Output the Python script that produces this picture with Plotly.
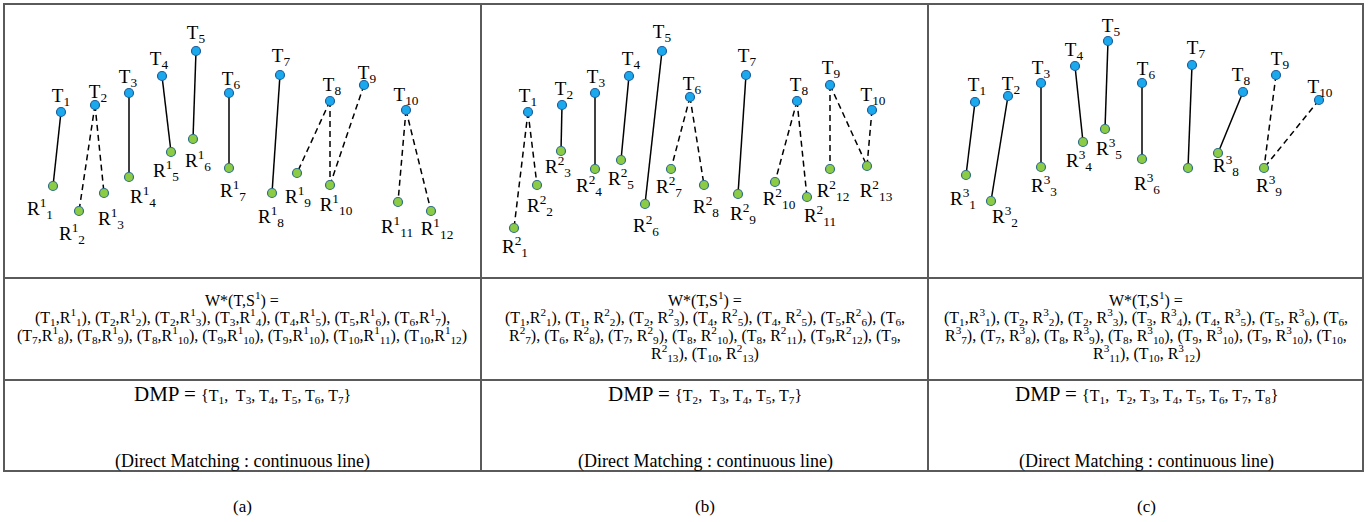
import plotly.graph_objects as go

# ---------------- Data (pixel-space layout of the diagram) ----------------
# Panel (a): S^1
a_t_x = [61, 95, 129, 162, 196, 229, 280, 330, 364, 406]
a_t_y = [112, 105, 93, 76, 51, 93, 75, 101, 85, 110]
a_r_x = [53, 79, 104, 129, 171, 193, 229, 272, 297, 330, 398, 431]
a_r_y = [186, 211, 193, 177, 152, 139, 168, 193, 173, 185, 202, 211]
a_link_t = [1, 2, 2, 3, 4, 5, 6, 7, 8, 8, 9, 10, 10]
a_link_r = [1, 2, 3, 4, 5, 6, 7, 8, 9, 10, 10, 11, 12]
a_link_direct = [1, 0, 0, 1, 1, 1, 1, 1, 0, 0, 0, 0, 0]
a_tlab_x = [61, 98, 128, 159, 196, 231, 281, 332, 367, 406]
a_tlab_y = [97, 93, 78, 60, 34, 80, 57, 86, 74, 96]
a_rlab_x = [40, 72, 111, 143, 166, 198, 233, 271, 298, 336, 397, 437]
a_rlab_y = [210, 235, 220, 198, 172, 162, 192, 218, 198, 206, 228, 230]

# Panel (b): S^2
b_t_x = [528, 562, 595, 629, 662, 690, 746, 797, 830, 872]
b_t_y = [112, 105, 93, 76, 51, 97, 75, 101, 85, 110]
b_r_x = [514, 537, 561, 595, 621, 645, 671, 704, 738, 775, 807, 830, 867]
b_r_y = [228, 185, 151, 169, 160, 204, 169, 185, 194, 182, 197, 169, 166]
b_link_t = [1, 1, 2, 3, 4, 5, 6, 6, 7, 8, 8, 9, 9, 10]
b_link_r = [1, 2, 3, 4, 5, 6, 7, 8, 9, 10, 11, 12, 13, 13]
b_link_direct = [0, 0, 1, 1, 1, 1, 0, 0, 1, 0, 0, 0, 0, 0]
b_tlab_x = [528, 564, 596, 631, 662, 692, 747, 799, 831, 873]
b_tlab_y = [97, 90, 78, 60, 33, 85, 57, 86, 69, 96]
b_rlab_x = [515, 540, 558, 589, 621, 646, 669, 706, 743, 779, 820, 833, 876]
b_rlab_y = [248, 207, 168, 187, 180, 227, 188, 208, 215, 200, 217, 192, 192]

# Panel (c): S^3
c_t_x = [975, 1008, 1041, 1075, 1108, 1142, 1192, 1243, 1276, 1319]
c_t_y = [102, 96, 83, 66, 41, 83, 65, 92, 75, 100]
c_r_x = [966, 991, 1041, 1083, 1105, 1142, 1188, 1218, 1264]
c_r_y = [175, 201, 167, 142, 129, 159, 168, 153, 168]
c_link_t = [1, 2, 3, 4, 5, 6, 7, 8, 9, 10]
c_link_r = [1, 2, 3, 4, 5, 6, 7, 8, 9, 9]
c_link_direct = [1, 1, 1, 1, 1, 1, 1, 1, 0, 0]
c_tlab_x = [977, 1011, 1041, 1074, 1111, 1146, 1196, 1241, 1280, 1320]
c_tlab_y = [86, 85, 69, 51, 27, 70, 49, 76, 60, 88]
c_rlab_x = [963, 1005, 1044, 1079, 1109, 1147, None, 1226, 1269]
c_rlab_y = [200, 218, 187, 162, 150, 185, None, 167, 187]

panel_sup = ["1", "2", "3"]
panel_centers = [242, 705, 1146]
panel_letters = ["(a)", "(b)", "(c)"]

w_lines_a = [
    "W*(T,S<sup>1</sup>) =",
    "(T<sub>1</sub>,R<sup>1</sup><sub>1</sub>), (T<sub>2</sub>,R<sup>1</sup><sub>2</sub>), (T<sub>2</sub>,R<sup>1</sup><sub>3</sub>), (T<sub>3</sub>,R<sup>1</sup><sub>4</sub>), (T<sub>4</sub>,R<sup>1</sup><sub>5</sub>), (T<sub>5</sub>,R<sup>1</sup><sub>6</sub>), (T<sub>6</sub>,R<sup>1</sup><sub>7</sub>),",
    "(T<sub>7</sub>,R<sup>1</sup><sub>8</sub>), (T<sub>8</sub>,R<sup>1</sup><sub>9</sub>), (T<sub>8</sub>,R<sup>1</sup><sub>10</sub>), (T<sub>9</sub>,R<sup>1</sup><sub>10</sub>), (T<sub>9</sub>,R<sup>1</sup><sub>10</sub>), (T<sub>10</sub>,R<sup>1</sup><sub>11</sub>), (T<sub>10</sub>,R<sup>1</sup><sub>12</sub>)",
]
w_lines_b = [
    "W*(T,S<sup>1</sup>) =",
    "(T<sub>1</sub>,R<sup>2</sup><sub>1</sub>), (T<sub>1</sub>, R<sup>2</sup><sub>2</sub>), (T<sub>2</sub>, R<sup>2</sup><sub>3</sub>), (T<sub>4</sub>, R<sup>2</sup><sub>5</sub>), (T<sub>4</sub>, R<sup>2</sup><sub>5</sub>), (T<sub>5</sub>,R<sup>2</sup><sub>6</sub>), (T<sub>6</sub>,",
    "R<sup>2</sup><sub>7</sub>), (T<sub>6</sub>, R<sup>2</sup><sub>8</sub>), (T<sub>7</sub>, R<sup>2</sup><sub>9</sub>), (T<sub>8</sub>, R<sup>2</sup><sub>10</sub>), (T<sub>8</sub>, R<sup>2</sup><sub>11</sub>), (T<sub>9</sub>,R<sup>2</sup><sub>12</sub>), (T<sub>9</sub>,",
    "R<sup>2</sup><sub>13</sub>), (T<sub>10</sub>, R<sup>2</sup><sub>13</sub>)",
]
w_lines_c = [
    "W*(T,S<sup>1</sup>) =",
    "(T<sub>1</sub>,R<sup>3</sup><sub>1</sub>), (T<sub>2</sub>, R<sup>3</sup><sub>2</sub>), (T<sub>2</sub>, R<sup>3</sup><sub>3</sub>), (T<sub>3</sub>, R<sup>3</sup><sub>4</sub>), (T<sub>4</sub>, R<sup>3</sup><sub>5</sub>), (T<sub>5</sub>, R<sup>3</sup><sub>6</sub>), (T<sub>6</sub>,",
    "R<sup>3</sup><sub>7</sub>), (T<sub>7</sub>, R<sup>3</sup><sub>8</sub>), (T<sub>8</sub>, R<sup>3</sup><sub>9</sub>), (T<sub>8</sub>, R<sup>3</sup><sub>10</sub>), (T<sub>9</sub>, R<sup>3</sup><sub>10</sub>), (T<sub>9</sub>, R<sup>3</sup><sub>10</sub>), (T<sub>10</sub>,",
    "R<sup>3</sup><sub>11</sub>), (T<sub>10</sub>, R<sup>3</sup><sub>12</sub>)",
]
dmp_a = "{T<sub>1</sub>,  T<sub>3</sub>, T<sub>4</sub>, T<sub>5</sub>, T<sub>6</sub>, T<sub>7</sub>}"
dmp_b = "{T<sub>2</sub>,  T<sub>3</sub>, T<sub>4</sub>, T<sub>5</sub>, T<sub>7</sub>}"
dmp_c = "{T<sub>1</sub>,  T<sub>2</sub>, T<sub>3</sub>, T<sub>4</sub>, T<sub>5</sub>, T<sub>6</sub>, T<sub>7</sub>, T<sub>8</sub>}"

# ---------------- Styling ----------------
FONT = "Liberation Serif"
BLUE_FILL, BLUE_EDGE = "#1aa9ec", "#1d5d9c"
GREEN_FILL, GREEN_EDGE = "#8ccc45", "#2f6f86"
BORDER = "#5a5a5a"

fig = go.Figure()

panels = [
    (a_t_x, a_t_y, a_r_x, a_r_y, a_link_t, a_link_r, a_link_direct, a_tlab_x, a_tlab_y, a_rlab_x, a_rlab_y),
    (b_t_x, b_t_y, b_r_x, b_r_y, b_link_t, b_link_r, b_link_direct, b_tlab_x, b_tlab_y, b_rlab_x, b_rlab_y),
    (c_t_x, c_t_y, c_r_x, c_r_y, c_link_t, c_link_r, c_link_direct, c_tlab_x, c_tlab_y, c_rlab_x, c_rlab_y),
]

annotations = []
for p, (tx, ty, rx, ry, lt, lr, ld, tlx, tly, rlx, rly) in enumerate(panels):
    sx, sy, dx, dy = [], [], [], []
    for ti, ri, d in zip(lt, lr, ld):
        xs, ys = (sx, sy) if d else (dx, dy)
        xs += [tx[ti - 1], rx[ri - 1], None]
        ys += [ty[ti - 1], ry[ri - 1], None]
    fig.add_trace(go.Scatter(x=sx, y=sy, mode="lines",
                             line=dict(color="black", width=1.5), hoverinfo="skip"))
    fig.add_trace(go.Scatter(x=dx, y=dy, mode="lines",
                             line=dict(color="black", width=1.5, dash="6px,4px"), hoverinfo="skip"))
    fig.add_trace(go.Scatter(x=rx, y=ry, mode="markers",
                             marker=dict(size=9, color=GREEN_FILL, line=dict(color=GREEN_EDGE, width=1.2)),
                             hoverinfo="skip"))
    fig.add_trace(go.Scatter(x=tx, y=ty, mode="markers",
                             marker=dict(size=9, color=BLUE_FILL, line=dict(color=BLUE_EDGE, width=1.2)),
                             hoverinfo="skip"))
    t_text = [f"T<sub>{i + 1}</sub>" for i in range(len(tx))]
    fig.add_trace(go.Scatter(x=tlx, y=tly, mode="text", text=t_text,
                             textfont=dict(family=FONT, size=19, color="black"), hoverinfo="skip"))
    r_text = [f"R<sup>{panel_sup[p]}</sup><sub>{i + 1}</sub>" for i in range(len(rx))]
    fig.add_trace(go.Scatter(x=rlx, y=rly, mode="text", text=r_text,
                             textfont=dict(family=FONT, size=19, color="black"), hoverinfo="skip"))

# W* text rows
w_all = [w_lines_a, w_lines_b, w_lines_c]
w_y0 = 299
w_dy = 18
for cx, lines in zip(panel_centers, w_all):
    for k, line in enumerate(lines):
        annotations.append(dict(x=cx, y=w_y0 + k * w_dy, text=line, showarrow=False,
                                xref="x", yref="y", xanchor="center", yanchor="middle",
                                font=dict(family=FONT, size=16, color="black")))

# DMP rows
for cx, dmp in zip(panel_centers, [dmp_a, dmp_b, dmp_c]):
    annotations.append(dict(x=cx, y=394,
                            text="<span style='font-size:21px'>DMP = </span>" + dmp,
                            showarrow=False, xref="x", yref="y", xanchor="center", yanchor="middle",
                            font=dict(family=FONT, size=16, color="black")))
    annotations.append(dict(x=cx, y=461, text="(Direct Matching : continuous line)",
                            showarrow=False, xref="x", yref="y", xanchor="center", yanchor="middle",
                            font=dict(family=FONT, size=18, color="black")))

for cx, letter in zip(panel_centers, panel_letters):
    annotations.append(dict(x=cx, y=506, text=letter, showarrow=False, xref="x", yref="y",
                            xanchor="center", yanchor="middle",
                            font=dict(family=FONT, size=17, color="black")))

# Table grid
L, R, T, B = 4, 1363, 4, 471
col1, col2 = 481, 928
row1, row2 = 278, 380
shapes = [
    dict(type="rect", x0=L, x1=R, y0=T, y1=B),
    dict(type="line", x0=col1, x1=col1, y0=T, y1=B),
    dict(type="line", x0=col2, x1=col2, y0=T, y1=B),
    dict(type="line", x0=L, x1=R, y0=row1, y1=row1),
    dict(type="line", x0=L, x1=R, y0=row2, y1=row2),
]
for s in shapes:
    s.update(xref="x", yref="y", line=dict(color=BORDER, width=2), layer="below")

fig.update_layout(
    width=1371, height=522,
    margin=dict(l=0, r=0, t=0, b=0),
    paper_bgcolor="white", plot_bgcolor="white",
    showlegend=False,
    xaxis=dict(range=[0, 1371], visible=False, fixedrange=True),
    yaxis=dict(range=[522, 0], visible=False, fixedrange=True),
    shapes=shapes,
    annotations=annotations,
)

fig.write_html("out.html", config={"displayModeBar": False},
               post_script="document.body.style.margin='0';document.body.style.padding='0';")
